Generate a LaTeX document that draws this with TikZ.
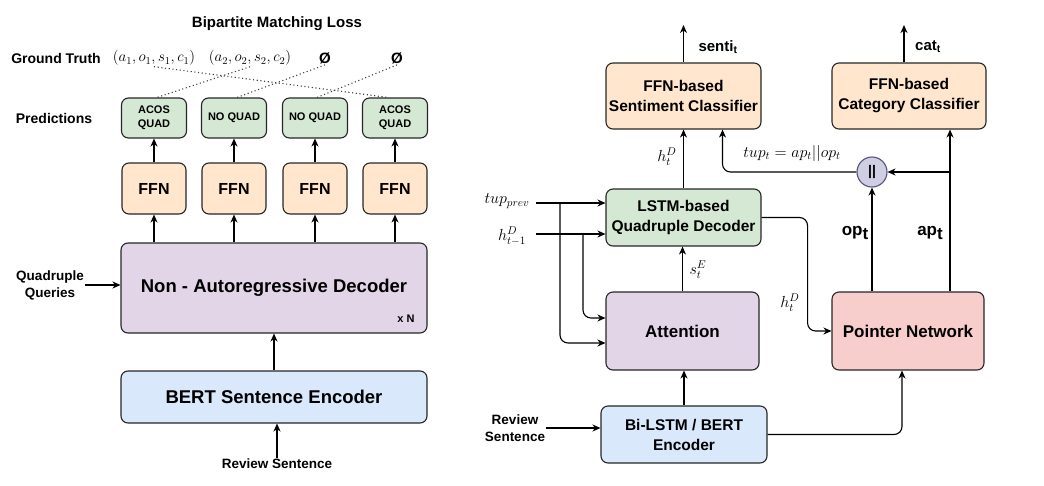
\RequirePackage{fix-cm}
\documentclass[tikz,border=0pt]{standalone}
\usepackage{fontspec}
\setmainfont{Liberation Sans}
\usetikzlibrary{arrows.meta}
\definecolor{dgreen}{HTML}{D5E8D4}
\definecolor{dorange}{HTML}{FFE6CC}
\definecolor{dpurple}{HTML}{E1D5E7}
\definecolor{dblue}{HTML}{DAE8FC}
\definecolor{dred}{HTML}{F8CECC}
\definecolor{dlav}{HTML}{D0CEE2}
\definecolor{dlavline}{HTML}{56517E}
\newcommand{\fsz}[2]{\fontsize{#1}{#2}\selectfont\bfseries}
\tikzset{px/.style={x=1pt,y=-1pt},
         blk/.style={draw=black!85,line width=1.1pt,rounded corners=7pt,align=center,inner sep=0pt},
         arr/.style={line width=1.1pt,-{Stealth[length=8pt,width=7pt,inset=2.5pt]}},
         mth/.style={font=\fontsize{16}{19}\selectfont,inner sep=1pt},
         lbl/.style={font=\fsz{14}{18},align=center,inner sep=1pt},
         dots/.style={line width=1.1pt,black!75,dash pattern=on 1.1pt off 2.6pt}}

\begin{document}
\begin{tikzpicture}[px]
    \useasboundingbox (0,0) rectangle (1044,485);
    % left: set prediction model
    \node[lbl,font=\fsz{15}{18}] (bml) at (277,24) {Bipartite Matching Loss};
    \node[lbl] (gtl) at (56,58) {Ground Truth};
    \node[mth,font=\fontsize{15}{18}\selectfont] (gt1) at (154,58) {$(a_1,o_1,s_1,c_1)$};
    \node[mth,font=\fontsize{15}{18}\selectfont] (gt2) at (250,58) {$(a_2,o_2,s_2,c_2)$};
    \node[lbl,font=\fsz{15}{18}] (gt3) at (325,58) {Ø};
    \node[lbl,font=\fsz{15}{18}] (gt4) at (397,58) {Ø};
    \node[lbl] (predl) at (54,118) {Predictions};
    \foreach \i/\x/\txt in {1/154/{ACOS\\QUAD},2/234/{NO QUAD},3/315/{NO QUAD},4/395/{ACOS\\QUAD}}{
      \node[blk,fill=dgreen,minimum width=65pt,minimum height=40pt,font=\fsz{11}{14}] (pred\i) at (\x,118) {\txt};
      \node[blk,fill=dorange,minimum width=64pt,minimum height=51pt,font=\fsz{16}{20}] (ffn\i) at (\x,188.5) {FFN};
    }
    \node[blk,fill=dpurple,minimum width=306pt,minimum height=90pt,font=\fsz{18.5}{22}] (dec) at (274,288) {Non - Autoregressive Decoder};
    \node[lbl,font=\fsz{11}{13}] (xn) at (406,319) {x N};
    \node[blk,fill=dblue,minimum width=306pt,minimum height=52pt,font=\fsz{18.5}{22}] (bert) at (274,397) {BERT Sentence Encoder};
    \node[lbl,font=\fsz{13.5}{17}] (qq) at (50,285) {Quadruple\\Queries};
    \node[lbl,font=\fsz{13.5}{17}] (rs1) at (277,464) {Review Sentence};
    \draw[dots] (gt1.south) -- ([xshift=-7pt]pred4.north);
    \draw[dots] (gt2.south) -- ([xshift=3pt]pred1.north);
    \draw[dots] (gt3.south) -- ([xshift=3pt]pred2.north);
    \draw[dots] (gt4.south) -- ([xshift=2pt]pred3.north);
    \foreach \i in {1,...,4}{
      \draw[arr] (ffn\i) -- (pred\i);
      \draw[arr] (dec.north -| ffn\i) -- (ffn\i);
    }
    \draw[arr] (qq.east) -- (qq.east -| dec.west);
    \draw[arr] (bert) -- (dec);
    \draw[arr] (rs1) -- (rs1 |- bert.south);
    % right: pointer model
    \node[blk,fill=dorange,minimum width=155pt,minimum height=66pt,font=\fsz{15.5}{20}] (senti) at (683.5,96) {FFN-based\\Sentiment Classifier};
    \node[blk,fill=dorange,minimum width=154pt,minimum height=66pt,font=\fsz{15.5}{20}] (catc) at (909,96) {FFN-based\\Category Classifier};
    \node[blk,fill=dgreen,minimum width=155pt,minimum height=57pt,font=\fsz{15.5}{20}] (lstm) at (683.5,217.5) {LSTM-based\\Quadruple Decoder};
    \node[blk,fill=dpurple,minimum width=153pt,minimum height=78pt,font=\fsz{17}{20}] (att) at (682.5,331) {Attention};
    \node[blk,fill=dred,minimum width=152pt,minimum height=78pt,font=\fsz{17}{20}] (ptr) at (908,331) {Pointer Network};
    \node[blk,fill=dblue,minimum width=166pt,minimum height=57pt,font=\fsz{15.5}{20}] (enc) at (684,434.5) {Bi-LSTM / BERT\\Encoder};
    \node[circle,draw=dlavline,fill=dlav,line width=1.1pt,minimum size=30pt,inner sep=0pt,font=\fsz{14}{16}] (conc) at (872,172) {||};
    \node[lbl,font=\fsz{15}{18}] (sl) at (718,47) {senti\textsubscript{t}};
    \node[lbl,font=\fsz{15}{18}] (cl) at (928,47) {cat\textsubscript{t}};
    \node[mth] (hd1) at (667,157) {$h_t^D$};
    \node[mth] (tupl) at (792,153) {$tup_t = ap_t||op_t$};
    \node[mth] (tp) at (507,201) {$tup_{prev}$};
    \node[mth] (hp) at (512,236) {$h_{t-1}^D$};
    \node[mth] (se) at (698,270) {$s_t^E$};
    \node[mth] (hd2) at (790,303) {$h_t^D$};
    \node[lbl,font=\fsz{17}{20}] (opl) at (855,233) {op\raisebox{-.25em}{t}};
    \node[lbl,font=\fsz{17}{20}] (apl) at (930,233) {ap\raisebox{-.25em}{t}};
    \node[lbl,font=\fsz{13.5}{17}] (rs2) at (515,428) {Review\\Sentence};
    \coordinate (so) at (683.5,25);
    \coordinate (co) at (904,25);
    \coordinate (tpin) at (536,203);
    \coordinate (hin) at (536,234);
    \coordinate (ap) at ([xshift=42pt]ptr.north);
    \draw[arr] (senti.north) -- (so);
    \draw[arr] (co |- catc.north) -- (co);
    \draw[arr] (lstm) -- (senti);
    \draw[arr] (att.north) -- (att.north |- lstm.south);
    \draw[arr] (enc.north) -- (enc.north |- att.south);
    \draw[arr] (tpin) -- (tpin -| lstm.west);
    \draw[arr] (hin) -- (hin -| lstm.west);
    \draw[arr,rounded corners=8pt] ([xshift=24pt]tpin) |- ([yshift=-12pt]att.west);
    \draw[arr,rounded corners=8pt] ([xshift=47pt]hin) |- ([yshift=13pt]att.west);
    \draw[arr,rounded corners=8pt] (lstm.east) -- ++(46,0) |- (ptr.west);
    \draw[arr,rounded corners=8pt] (enc.east) -| ([xshift=-6pt]ptr.south);
    \draw[arr] (conc.south |- ptr.north) -- (conc.south);
    \draw[arr] (ap) -- (ap |- catc.south);
    \draw[arr] (ap |- conc) -- (conc.east);
    \draw[arr,rounded corners=8pt] (conc.west) -| ([xshift=39pt]senti.south);
    \draw[arr] (rs2.east) -- (rs2.east -| enc.west);
\end{tikzpicture}
\end{document}
